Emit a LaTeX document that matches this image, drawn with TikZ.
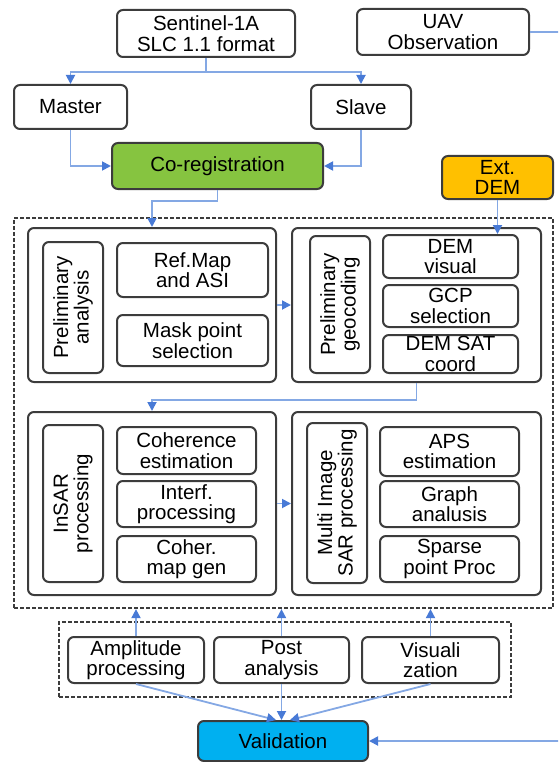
\documentclass[tikz,border=0pt]{standalone}
\usepackage{fontspec}
\setmainfont{Liberation Sans}
\usetikzlibrary{arrows.meta,calc}
\definecolor{edge}{RGB}{60,60,60}
\definecolor{wire}{RGB}{132,168,228}
\definecolor{tipblue}{RGB}{72,122,214}
\definecolor{leaf}{RGB}{134,196,64}
\definecolor{amber}{RGB}{255,192,0}
\definecolor{sky}{RGB}{0,176,240}
\begin{document}
\begin{tikzpicture}[x=1pt,y=-1pt,
  font=\fontsize{20.5pt}{20.5pt}\selectfont,
  box/.style={draw=edge, line width=2pt, rounded corners=6pt, fill=white,
              align=center, inner sep=1pt},
  dashbox/.style={draw=edge, line width=2.2pt, dash pattern=on 4pt off 2pt},
  wired/.style={draw=wire, line width=1.8pt,
                -{Triangle[length=9pt,width=9pt,color=tipblue]}},
]
\clip (0,0) rectangle (558,762);

% top row
\node[box, minimum width=178pt, minimum height=47pt] (sent) at (206,33.5) {Sentinel-1A\\SLC 1.1 format};
\node[box, minimum width=172pt, minimum height=46pt] (uav) at (443,32) {UAV\\Observation};
\node[box, minimum width=113pt, minimum height=44pt] (master) at (70.5,107) {Master};
\node[box, minimum width=100pt, minimum height=44pt] (slave) at (361,107) {Slave};
\node[box, fill=leaf, minimum width=211pt, minimum height=46pt] (coreg) at (217.5,166) {Co-registration};
\node[box, fill=amber, minimum width=111pt, minimum height=43pt] (extdem) at (497.5,177.5) {Ext.\\DEM};

% processing block
\node[dashbox, minimum width=539pt, minimum height=390pt] (outer) at (283.5,413) {};

\node[box, minimum width=248pt, minimum height=154pt] (grpA) at (152,305) {};
\node[box, rotate=90, minimum width=131pt, minimum height=60pt] (pa) at (73,307.5) {Preliminary\\analysis};
\node[box, minimum width=151pt, minimum height=54pt] (refmap) at (192.5,270) {Ref.Map\\and ASI};
\node[box, minimum width=151pt, minimum height=51pt] (mask) at (192.5,340.5) {Mask point\\selection};

\node[box, minimum width=249pt, minimum height=154pt] (grpB) at (416.5,305) {};
\node[box, rotate=90, minimum width=137pt, minimum height=60pt] (pg) at (340,304.5) {Preliminary\\geocoding};
\node[box, minimum width=135pt, minimum height=43pt] (demvis) at (450.5,256.5) {DEM\\visual};
\node[box, minimum width=135pt, minimum height=42pt] (gcp) at (450.5,306) {GCP\\selection};
\node[box, minimum width=135pt, minimum height=38pt] (demsat) at (450.5,354) {DEM SAT\\coord};

\node[box, minimum width=248pt, minimum height=183pt] (grpC) at (152,503.5) {};
\node[box, rotate=90, minimum width=157pt, minimum height=60pt] (insar) at (73,503.5) {InSAR\\processing};
\node[box, minimum width=139pt, minimum height=47pt] (coh) at (186.5,450.5) {Coherence\\estimation};
\node[box, minimum width=139pt, minimum height=46pt] (interf) at (186.5,504) {Interf.\\processing};
\node[box, minimum width=139pt, minimum height=46pt] (cmap) at (186.5,559) {Coher.\\map gen};

\node[box, minimum width=249pt, minimum height=183pt] (grpD) at (416.5,503.5) {};
\node[box, rotate=90, minimum width=160pt, minimum height=60pt] (multi) at (337,503) {Multi Image\\SAR processing};
\node[box, minimum width=139pt, minimum height=49pt] (aps) at (449.5,451.5) {APS\\estimation};
\node[box, minimum width=139pt, minimum height=46pt] (graph) at (449.5,504) {Graph\\analusis};
\node[box, minimum width=139pt, minimum height=46pt] (sparse) at (449.5,559) {Sparse\\point Proc};

% post-processing block
\node[dashbox, minimum width=452pt, minimum height=75pt] (lower) at (285,659.5) {};
\node[box, minimum width=136pt, minimum height=46pt] (amp) at (136,660) {Amplitude\\processing};
\node[box, minimum width=135pt, minimum height=46pt] (post) at (281.5,660) {Post\\analysis};
\node[box, minimum width=137pt, minimum height=46pt] (vis) at (430.5,660) {Visuali\\zation};

\node[box, fill=sky, minimum width=170pt, minimum height=40pt] (valid) at (283,741) {Validation};

% connectors
\draw[wired] (sent.south) -- ++(0,14) -| (master.north);
\draw[wired] (sent.south) -- ++(0,14) -| (slave.north);
\draw[wired] (master.south) |- (coreg.west);
\draw[wired] (slave.south) |- (coreg.east);
\draw[wired] (coreg.south) -- ++(0,11) -| (grpA.north);
\draw[wired] (grpA.east) -- (grpB.west);
\draw[wired] (extdem.south) -- (extdem.south |- demvis.north);
\draw[wired] (grpB.south) -- ++(0,17) -| (grpC.north);
\draw[wired] (grpC.east) -- (grpD.west);
\draw[wired] (amp.north) -- (amp.north |- outer.south);
\draw[wired] (post.north) -- (post.north |- outer.south);
\draw[wired] (vis.north) -- (vis.north |- outer.south);
\draw[wired] (amp.south) -- ($(valid.north)+(-7,0)$);
\draw[wired] (post.south) -- (post.south |- valid.north);
\draw[wired] (vis.south) -- ($(valid.north)+(7,0)$);
\coordinate (rail) at (566,32);
\draw[wired] (uav.east) -- (rail) |- (valid.east);
\end{tikzpicture}
\end{document}
